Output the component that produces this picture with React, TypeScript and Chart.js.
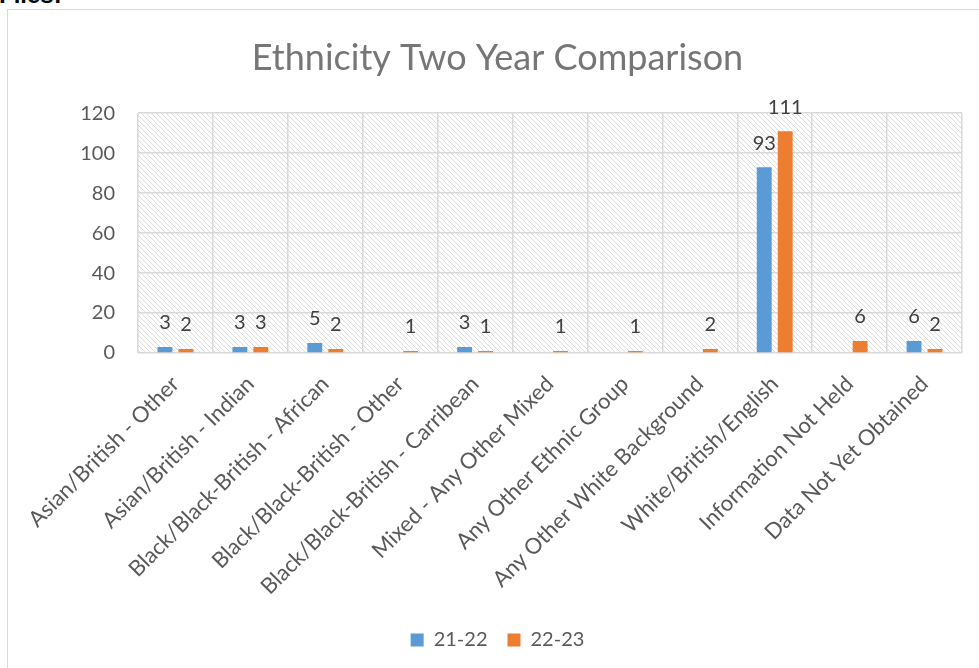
import React, { useEffect, useRef } from "react";
import { Chart, registerables } from "chart.js";

Chart.register(...registerables);

const categories = [
  "Asian/British - Other",
  "Asian/British - Indian",
  "Black/Black-British - African",
  "Black/Black-British - Other",
  "Black/Black-British - Carribean",
  "Mixed - Any Other Mixed",
  "Any Other Ethnic Group",
  "Any Other White Background",
  "White/British/English",
  "Information Not Held",
  "Data Not Yet Obtained",
];
const series2122 = [3, 3, 5, 0, 3, 0, 0, 0, 93, 0, 6];
const series2223 = [2, 3, 2, 1, 1, 1, 1, 2, 111, 6, 2];
const seriesNames = ["21-22", "22-23"];
const yMin = 0;
const yMax = 120;
const yStep = 20;
const titleText = "Ethnicity Two Year Comparison";

const FONT = "Lato";

function makeHatch(): CanvasPattern | string {
  const s = 5;
  const c = document.createElement("canvas");
  c.width = s;
  c.height = s;
  const g = c.getContext("2d");
  if (!g) return "#ffffff";
  g.fillStyle = "#ffffff";
  g.fillRect(0, 0, s, s);
  g.strokeStyle = "#dcdcdc";
  g.lineWidth = 1;
  g.beginPath();
  g.moveTo(-1, -1);
  g.lineTo(s + 1, s + 1);
  g.moveTo(-1 - s, -1);
  g.lineTo(1, s + 1);
  g.moveTo(s - 1, -1);
  g.lineTo(2 * s + 1, s + 1);
  g.stroke();
  const p = g.createPattern(c, "repeat");
  return p || "#ffffff";
}

const hatchPlugin = {
  id: "hatchBg",
  beforeDraw(chart: any) {
    const { ctx, chartArea } = chart;
    if (!chartArea) return;
    ctx.save();
    ctx.fillStyle = makeHatch();
    ctx.fillRect(
      chartArea.left,
      chartArea.top,
      chartArea.right - chartArea.left,
      chartArea.bottom - chartArea.top
    );
    ctx.restore();
  },
};

const labelPlugin = {
  id: "barLabels",
  afterDatasetsDraw(chart: any) {
    const { ctx } = chart;
    ctx.save();
    ctx.font = `20px ${FONT}`;
    ctx.fillStyle = "#404040";
    ctx.textAlign = "center";
    ctx.textBaseline = "middle";
    chart.data.datasets.forEach((ds: any, di: number) => {
      const meta = chart.getDatasetMeta(di);
      meta.data.forEach((el: any, i: number) => {
        const v = ds.data[i];
        if (!v) return;
        ctx.fillText(String(v), el.x, el.y - 24);
      });
    });
    ctx.restore();
  },
};

export default function App() {
  const ref = useRef<HTMLCanvasElement | null>(null);

  useEffect(() => {
    document.body.style.overflow = "hidden";
    document.documentElement.style.overflow = "hidden";
    if (!ref.current) return;
    const chart = new Chart(ref.current, {
      type: "bar",
      data: {
        labels: categories,
        datasets: [
          {
            label: seriesNames[0],
            data: series2122,
            backgroundColor: "#5b9bd5",
            borderWidth: 0,
            categoryPercentage: 0.56,
            barPercentage: 0.71,
          },
          {
            label: seriesNames[1],
            data: series2223,
            backgroundColor: "#ed7d31",
            borderWidth: 0,
            categoryPercentage: 0.56,
            barPercentage: 0.71,
          },
        ],
      },
      options: {
        animation: false,
        responsive: false,
        maintainAspectRatio: false,
        layout: { padding: { left: 25, right: 30, top: 0, bottom: 30 } },
        plugins: {
          title: {
            display: true,
            text: titleText,
            color: "#767676",
            font: { family: FONT, size: 36, weight: "normal" },
            padding: { top: 27, bottom: 33 },
          },
          legend: {
            display: true,
            position: "bottom",
            labels: {
              boxWidth: 13,
              boxHeight: 13,
              color: "#595959",
              font: { family: FONT, size: 20 },
              padding: 20,
            },
          },
          tooltip: { enabled: false },
        },
        scales: {
          x: {
            grid: {
              display: true,
              offset: true,
              color: "#d9d9d9",
              lineWidth: 1.5,
              drawTicks: false,
            },
            border: { display: false },
            ticks: {
              color: "#595959",
              font: { family: FONT, size: 22 },
              maxRotation: 45,
              minRotation: 45,
              autoSkip: false,
              padding: 18,
            },
            afterFit(scale: any) {
              scale.height = 257;
            },
          },
          y: {
            min: yMin,
            max: yMax,
            grid: {
              color: "#d9d9d9",
              lineWidth: 1.5,
              drawTicks: false,
            },
            border: { display: false },
            ticks: {
              stepSize: yStep,
              color: "#595959",
              font: { family: FONT, size: 20 },
              padding: 23,
            },
            afterFit(scale: any) {
              scale.width = 105;
            },
          },
        },
      },
      plugins: [hatchPlugin, labelPlugin],
    });
    return () => chart.destroy();
  }, []);

  return (
    <div>
      <div
        style={{
          position: "absolute",
          left: -1,
          top: -19,
          fontFamily: "Liberation Sans, sans-serif",
          fontWeight: "bold",
          fontSize: 24,
          color: "#000",
        }}
      >
        Files:
      </div>
      <div
        style={{
          position: "absolute",
          left: 7,
          top: 9,
          width: 986,
          height: 700,
          borderLeft: "1px solid #d9d9d9",
          borderTop: "1px solid #d9d9d9",
          background: "#fff",
        }}
      >
        <canvas ref={ref} width={984} height={680} style={{ display: "block" }} />
      </div>
    </div>
  );
}
